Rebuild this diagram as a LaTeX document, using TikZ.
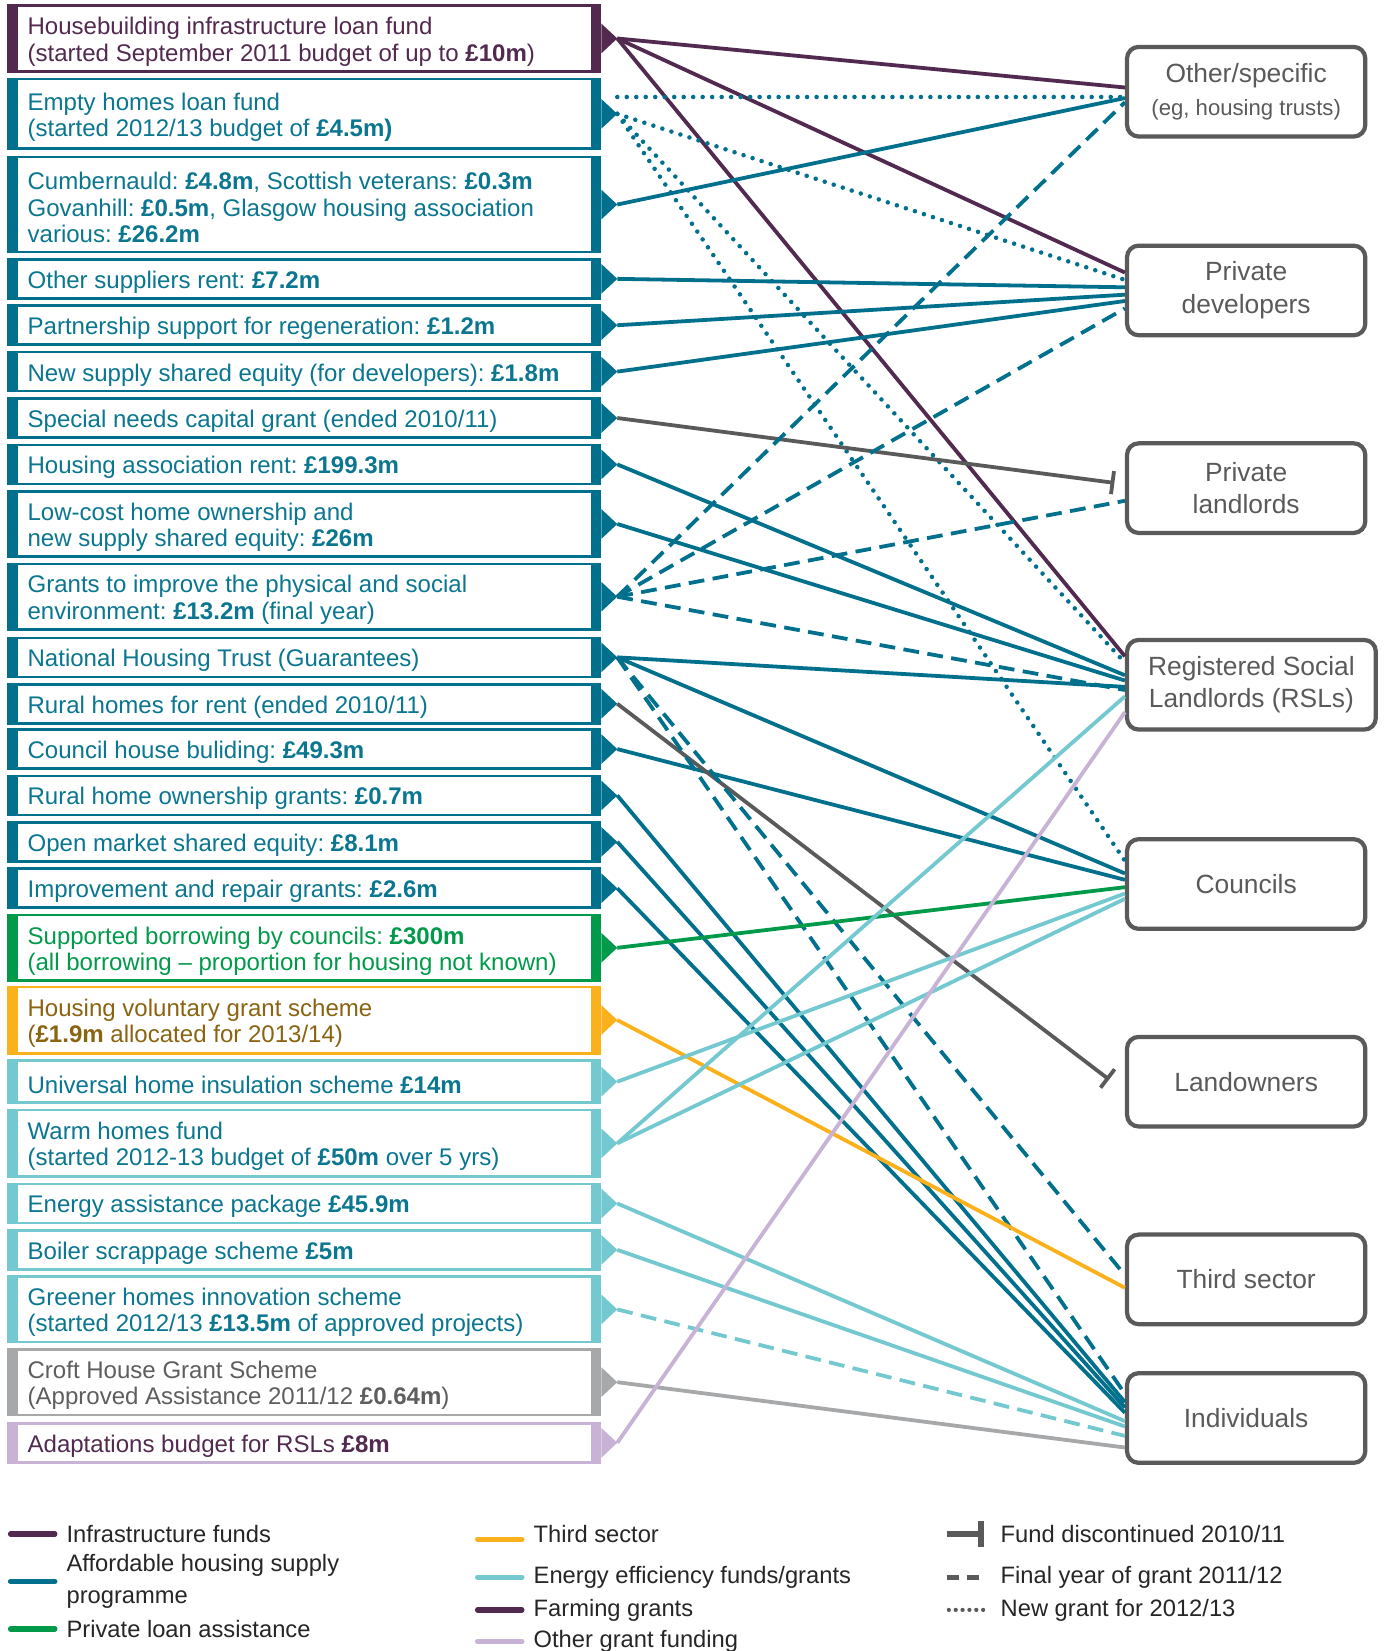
\documentclass[tikz,border=0pt]{standalone}
\usepackage{fontspec}
\setmainfont{Liberation Sans}
\usetikzlibrary{arrows.meta,calc}
\definecolor{cpur}{HTML}{522A50}
\definecolor{cteal}{HTML}{00708C}
\definecolor{ctealtext}{HTML}{0A7690}
\definecolor{cgreen}{HTML}{009A4A}
\definecolor{corange}{HTML}{FBB11B}
\definecolor{corangetext}{HTML}{8A6410}
\definecolor{clt}{HTML}{74C9D1}
\definecolor{ccroft}{HTML}{A7A8AA}
\definecolor{ccrofttext}{HTML}{5E5E5E}
\definecolor{clilac}{HTML}{C8B3D7}
\definecolor{cgray}{HTML}{5A5A5A}
\tikzset{
 lbox/.style={draw=#1, line width=2.5pt, minimum width=561pt, anchor=west, inner sep=0pt},
 ltext/.style={anchor=west, align=left, inner sep=0pt, font=\fontsize{22.8pt}{25pt}\selectfont},
 rbox/.style={draw=cgray, line width=4pt, rounded corners=11pt, minimum width=226pt, minimum height=85pt, text=cgray, align=center, font=\fontsize{25pt}{31pt}\selectfont},
 conn/.style={line width=3.6pt},
 dotline/.style={line width=4.3pt, line cap=round, dash pattern=on 0pt off 9pt},
 dashline/.style={conn, dash pattern=on 15pt off 8pt},
 endbar/.style={-{Bar[width=22pt]}},
 legline/.style={line width=5pt, line cap=round},
 legtext/.style={anchor=west, font=\fontsize{22.5pt}{30pt}\selectfont, text=black!85, align=left, inner sep=0pt},
}
\newcommand\LB[6]{%
 \node[lbox=#2, minimum height=#5pt] (#1) at (7,#4) {};
 \node[ltext, text=#3] (#1x) at ($(#1.west)+(19,3)$) {#6};
 \fill[#2] (#1.north west) rectangle ($(#1.south west)+(10,0)$);
 \fill[#2] ($(#1.north east)+(-10,0)$) rectangle (#1.south east);
 \fill[#2] ($(#1.east)+(0,-14)$) -- ($(#1.east)+(15,0)$) -- ($(#1.east)+(0,14)$) -- cycle;
 \coordinate (#1t) at ($(#1.east)+(15,0)$);
}
\begin{document}
\frenchspacing
\begin{tikzpicture}[x=1pt,y=-1pt]
\useasboundingbox[fill=white] (0,0) rectangle (1312,1566);
% left boxes
\LB{b1}{cpur}{cpur}{36.5}{63}{Housebuilding infrastructure loan fund\\(started September 2011 budget of up to \textbf{£10m})}
\LB{b2}{cteal}{ctealtext}{108}{66}{Empty homes loan fund\\(started 2012/13 budget of \textbf{£4.5m)}}
\LB{b3}{cteal}{ctealtext}{194}{90}{Cumbernauld: \textbf{£4.8m}, Scottish veterans: \textbf{£0.3m}\\Govanhill: \textbf{£0.5m}, Glasgow housing association\\various: \textbf{£26.2m}}
\LB{b4}{cteal}{ctealtext}{264.5}{37}{Other suppliers rent: \textbf{£7.2m}}
\LB{b5}{cteal}{ctealtext}{308.5}{37}{Partnership support for regeneration: \textbf{£1.2m}}
\LB{b6}{cteal}{ctealtext}{352.5}{37}{New supply shared equity (for developers): \textbf{£1.8m}}
\LB{b7}{cteal}{ctealtext}{396.5}{37}{Special needs capital grant (ended 2010/11)}
\LB{b8}{cteal}{ctealtext}{440.5}{37}{Housing association rent: \textbf{£199.3m}}
\LB{b9}{cteal}{ctealtext}{497}{62}{Low-cost home ownership and\\new supply shared equity: \textbf{£26m}}
\LB{b10}{cteal}{ctealtext}{566}{62}{Grants to improve the physical and social\\environment: \textbf{£13.2m} (final year)}
\LB{b11}{cteal}{ctealtext}{623.5}{37}{National Housing Trust (Guarantees)}
\LB{b12}{cteal}{ctealtext}{667.5}{37}{Rural homes for rent (ended 2010/11)}
\LB{b13}{cteal}{ctealtext}{710.5}{37}{Council house buliding: \textbf{£49.3m}}
\LB{b14}{cteal}{ctealtext}{754.5}{37}{Rural home ownership grants: \textbf{£0.7m}}
\LB{b15}{cteal}{ctealtext}{798.5}{37}{Open market shared equity: \textbf{£8.1m}}
\LB{b16}{cteal}{ctealtext}{842.5}{37}{Improvement and repair grants: \textbf{£2.6m}}
\LB{b17}{cgreen}{cgreen}{899}{62}{Supported borrowing by councils: \textbf{£300m}\\(all borrowing – proportion for housing not known)}
\LB{b18}{corange}{corangetext}{967.5}{63}{Housing voluntary grant scheme\\(\textbf{£1.9m} allocated for 2013/14)}
\LB{b19}{clt}{ctealtext}{1026}{40}{Universal home insulation scheme \textbf{£14m}}
\LB{b20}{clt}{ctealtext}{1084.5}{63}{Warm homes fund\\(started 2012-13 budget of \textbf{£50m} over 5 yrs)}
\LB{b21}{clt}{ctealtext}{1141.5}{37}{Energy assistance package \textbf{£45.9m}}
\LB{b22}{clt}{ctealtext}{1185.5}{37}{Boiler scrappage scheme \textbf{£5m}}
\LB{b23}{clt}{ctealtext}{1242}{62}{Greener homes innovation scheme\\(started 2012/13 \textbf{£13.5m} of approved projects)}
\LB{b24}{ccroft}{ccrofttext}{1311}{62}{Croft House Grant Scheme\\(Approved Assistance 2011/12 \textbf{£0.64m})}
\LB{b25}{clilac}{cpur}{1368.5}{37}{Adaptations budget for RSLs \textbf{£8m}}
% right boxes
\node[rbox] (os) at (1182,87) {Other/specific\\{\fontsize{21pt}{25pt}\selectfont (eg, housing trusts)}};
\node[rbox] (pd) at (1182,275.5) {Private\\developers};
\node[rbox] (pl) at (1182,463) {Private\\landlords};
\node[rbox, minimum width=236pt] (rsl) at (1187,649.5) {Registered Social\\Landlords (RSLs)};
\node[rbox] (co) at (1182,838.5) {Councils};
\node[rbox] (lo) at (1182,1026) {Landowners};
\node[rbox] (ts) at (1182,1213.5) {Third sector};
\node[rbox] (ind) at (1182,1345) {Individuals};
% connectors: infrastructure
\draw[conn, cpur] (b1t) -- ($(os.west)+(0,-4)$);
\draw[conn, cpur] (b1t) -- ($(pd.west)+(0,-17)$);
\draw[conn, cpur] (b1t) -- ($(rsl.west)+(0,-27)$);
% empty homes (new)
\coordinate (b2top) at ($(b2t)+(0,-16)$);
\draw[dotline, cteal] (b2top) -- ($(os.west)+(0,5)$);
\draw[dotline, cteal] (b2t) -- ($(pd.west)+(0,-10)$);
\draw[dotline, cteal] (b2t) -- ($(rsl.west)+(0,-21)$);
\draw[dotline, cteal] (b2t) -- ($(co.west)+(0,-22)$);
% affordable housing solid
\draw[conn, cteal] (b3t) -- ($(os.west)+(0,6)$);
\draw[conn, cteal] (b4t) -- ($(pd.west)+(0,-3)$);
\draw[conn, cteal] (b5t) -- ($(pd.west)+(0,4)$);
\draw[conn, cteal] (b6t) -- ($(pd.west)+(0,10)$);
\draw[conn, cteal] (b8t) -- ($(rsl.west)+(0,-9)$);
\draw[conn, cteal] (b9t) -- ($(rsl.west)+(0,-4)$);
\draw[conn, cteal] (b11t) -- ($(rsl.west)+(0,2)$);
\draw[conn, cteal] (b11t) -- ($(co.west)+(0,-10)$);
\draw[conn, cteal] (b13t) -- ($(co.west)+(0,-4)$);
\draw[conn, cteal] (b14t) -- ($(ind.west)+(0,-15)$);
\draw[conn, cteal] (b15t) -- ($(ind.west)+(0,-10)$);
\draw[conn, cteal] (b16t) -- ($(ind.west)+(0,-5)$);
% discontinued
\draw[conn, cgray, endbar] (b7t) -- ($(pl.west)+(-10,-5)$);
\draw[conn, cgray, endbar] (b12t) -- ($(lo.west)+(-15,-2)$);
% final year dashed
\draw[dashline, cteal] (b10t) -- ($(os.west)+(0,10)$);
\draw[dashline, cteal] (b10t) -- ($(pd.west)+(0,17)$);
\draw[dashline, cteal] (b10t) -- ($(pl.west)+(0,12)$);
\draw[dashline, cteal] (b10t) -- ($(rsl.west)+(0,5)$);
\draw[dashline, cteal] (b11t) -- ($(ts.west)+(0,-4)$);
\draw[dashline, cteal] (b11t) -- ($(ind.west)+(0,-23)$);
% others
\draw[conn, cgreen] (b17t) -- ($(co.west)+(0,3)$);
\draw[conn, corange] (b18t) -- ($(ts.west)+(0,8)$);
\draw[conn, clt] (b19t) -- ($(co.west)+(0,9)$);
\draw[conn, clt] (b20t) -- ($(rsl.west)+(0,11)$);
\draw[conn, clt] (b20t) -- ($(co.west)+(0,14)$);
\draw[conn, clt] (b21t) -- ($(ind.west)+(0,3)$);
\draw[conn, clt] (b22t) -- ($(ind.west)+(0,8)$);
\draw[dashline, clt] (b23t) -- ($(ind.west)+(0,17)$);
\draw[conn, ccroft] (b24t) -- ($(ind.west)+(0,28)$);
\draw[conn, clilac] (b25t) -- ($(rsl.west)+(0,26)$);
% legend
\draw[legline, cpur] (10,1455) -- (52,1455);
\node[legtext] (l1) at (63,1455) {Infrastructure funds};
\draw[legline, cteal] (10,1500) -- (52,1500);
\node[legtext] (l2) at (63,1500) {Affordable housing supply\\programme};
\draw[legline, cgreen] (10,1545) -- (52,1545);
\node[legtext] (l3) at (63,1545) {Private loan assistance};
\draw[legline, corange] (453,1460) -- (495,1460);
\node[legtext] (l4) at (506,1455) {Third sector};
\draw[legline, clt] (453,1496) -- (495,1496);
\node[legtext] (l5) at (506,1496) {Energy efficiency funds/grants};
\draw[legline, cpur] (453,1527) -- (495,1527);
\node[legtext] (l6) at (506,1527) {Farming grants};
\draw[legline, clilac] (453,1557) -- (495,1557);
\node[legtext] (l7) at (506,1557) {Other grant funding};
\draw[line width=5pt, cgray, -{Bar[width=24pt]}] (898,1455) -- (933,1455);
\node[legtext] (l8) at (949,1455) {Fund discontinued 2010/11};
\draw[line width=5pt, cgray, dash pattern=on 12pt off 7pt] (898,1496) -- (935,1496);
\node[legtext] (l9) at (949,1496) {Final year of grant 2011/12};
\draw[line width=4pt, cgray, line cap=round, dash pattern=on 0pt off 6.5pt] (900,1527) -- (935,1527);
\node[legtext] (l10) at (949,1527) {New grant for 2012/13};
\end{tikzpicture}
\end{document}
